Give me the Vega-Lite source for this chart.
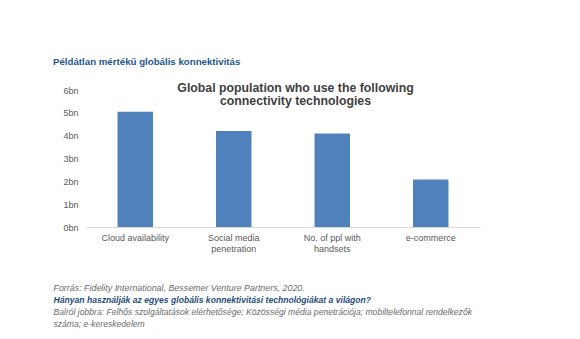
{
  "$schema": "https://vega.github.io/schema/vega-lite/v6.json",
  "autosize": "none",
  "width": 394,
  "height": 137,
  "padding": {"left": 86, "top": 90, "right": 100, "bottom": 112},
  "background": "white",
  "config": {
    "font": "Liberation Sans",
    "view": {"stroke": null}
  },
  "title": {
    "text": "Példátlan mértékű globális konnektivitás",
    "anchor": "start",
    "frame": "group",
    "orient": "top",
    "dx": -33,
    "offset": 14,
    "font": "Liberation Sans",
    "fontSize": 9.7,
    "fontWeight": "bold",
    "color": "#1f5690"
  },
  "data": {
    "values": [
      {"tech": "Cloud availability", "users": 5.05},
      {"tech": "Social media penetration", "users": 4.2},
      {"tech": "No. of ppl with handsets", "users": 4.1},
      {"tech": "e-commerce", "users": 2.08}
    ]
  },
  "layer": [
    {
      "mark": {"type": "bar", "color": "#4f81bd"},
      "encoding": {
        "x": {
          "field": "tech",
          "type": "nominal",
          "sort": null,
          "scale": {"paddingInner": 0.64, "paddingOuter": 0.32},
          "axis": {
            "orient": "bottom",
            "title": "Forrás: Fidelity International, Bessemer Venture Partners, 2020.",
            "titleX": -33,
            "titleY": 60,
            "titleAlign": "left",
            "titleBaseline": "middle",
            "titleFont": "Liberation Sans",
            "titleFontSize": 8.9,
            "titleFontStyle": "italic",
            "titleFontWeight": "normal",
            "titleColor": "#6b6b6b",
            "labelAngle": 0,
            "labelFont": "Liberation Sans",
            "labelFontSize": 9,
            "labelColor": "#595959",
            "labelLineHeight": 11,
            "labelPadding": 6,
            "ticks": false,
            "domainColor": "#d9d9d9",
            "labelExpr": "datum.value == 'Social media penetration' ? ['Social media', 'penetration'] : datum.value == 'No. of ppl with handsets' ? ['No. of ppl with', 'handsets'] : datum.value"
          }
        },
        "y": {
          "field": "users",
          "type": "quantitative",
          "scale": {"domain": [0, 6]},
          "axis": {
            "orient": "left",
            "values": [0, 1, 2, 3, 4, 5, 6],
            "labelExpr": "datum.value + 'bn'",
            "grid": false,
            "domain": false,
            "ticks": false,
            "labelPadding": 8,
            "labelFont": "Liberation Sans",
            "labelFontSize": 9,
            "labelColor": "#595959",
            "title": ["Global population who use the following", "connectivity technologies"],
            "titleAngle": 0,
            "titleX": 209,
            "titleY": -9,
            "titleAlign": "center",
            "titleBaseline": "top",
            "titleLineHeight": 13,
            "titleFont": "Liberation Sans",
            "titleFontSize": 12.3,
            "titleFontWeight": "bold",
            "titleColor": "#404040"
          }
        }
      }
    },
    {
      "mark": {"type": "bar", "opacity": 0},
      "encoding": {
        "x": {
          "field": "tech",
          "type": "nominal",
          "sort": null,
          "scale": {"paddingInner": 0.64, "paddingOuter": 0.32},
          "axis": {
            "orient": "top",
            "labels": false,
            "ticks": false,
            "domain": false,
            "title": ["Balról jobbra: Felhős szolgáltatások elérhetősége; Közösségi média penetrációja; mobiltelefonnal rendelkezők", "száma; e-kereskedelem"],
            "titleX": -33,
            "titleY": 221,
            "titleAlign": "left",
            "titleBaseline": "middle",
            "titleLineHeight": 12,
            "titleFont": "Liberation Sans",
            "titleFontSize": 8.6,
            "titleFontStyle": "italic",
            "titleFontWeight": "normal",
            "titleColor": "#6b6b6b"
          }
        },
        "y": {
          "field": "users",
          "type": "quantitative",
          "scale": {"domain": [0, 6]},
          "axis": {
            "orient": "right",
            "labels": false,
            "ticks": false,
            "domain": false,
            "grid": false,
            "title": "Hányan használják az egyes globális konnektivitási technológiákat a világon?",
            "titleAngle": 0,
            "titleX": -427,
            "titleY": 209,
            "titleAlign": "left",
            "titleBaseline": "middle",
            "titleFont": "Liberation Sans",
            "titleFontSize": 8.6,
            "titleFontStyle": "italic",
            "titleFontWeight": "bold",
            "titleColor": "#1f4e79"
          }
        }
      }
    }
  ],
  "resolve": {"scale": {"x": "independent", "y": "independent"}, "axis": {"x": "independent", "y": "independent"}}
}
